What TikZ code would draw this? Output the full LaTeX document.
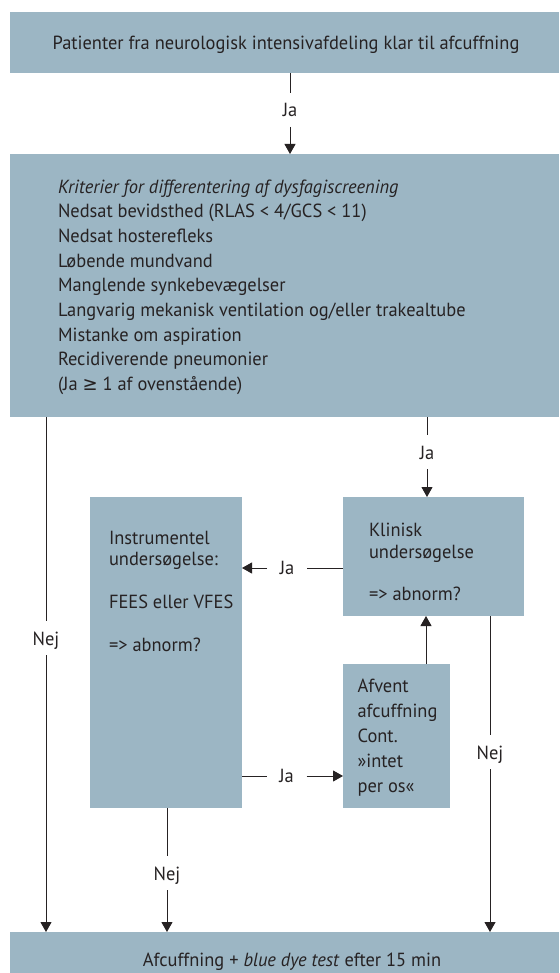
\documentclass[tikz,border=0pt]{standalone}
\usepackage{fontspec}
\setmainfont[FakeStretch=0.97]{PT Sans}
\newfontfamily\symfont[FakeStretch=0.95]{DejaVu Sans}
\usetikzlibrary{arrows.meta}
\definecolor{boxfill}{RGB}{156,182,196}
\definecolor{ink}{RGB}{38,34,35}
\begin{document}
\begin{tikzpicture}[x=1pt,y=-1pt,
  box/.style={fill=boxfill,draw=none,inner sep=0,outer sep=0},
  txt/.style={inner sep=0,outer sep=0,text=ink,align=left,anchor=north west},
  lbl/.style={inner sep=0,outer sep=0,text=ink,font=\fontsize{19}{22}\selectfont},
  vlbl/.style={lbl,text height=24pt,text depth=10pt,anchor=base},
  hlbl/.style={lbl,minimum width=40pt},
  conn/.style={draw=ink,line width=1pt},
  arr/.style={conn,-{Triangle[width=11pt,length=10pt]}}]
\useasboundingbox (0,0) rectangle (559,973);
\fill[white] (0,0) rectangle (559,973);
% boxes
\node[box,anchor=north west,minimum width=549pt,minimum height=61pt] (top) at (10,12) {};
\node[box,anchor=north west,minimum width=549pt,minimum height=263pt] (crit) at (10,154) {};
\node[box,anchor=north west,minimum width=181pt,minimum height=119pt] (klin) at (343,497) {};
\node[box,anchor=north west,minimum width=152pt,minimum height=311pt] (instr) at (90,497) {};
\node[box,anchor=north west,minimum width=107pt,minimum height=144pt] (afv) at (343,664) {};
\node[box,anchor=north west,minimum width=549pt,minimum height=41pt] (bot) at (10,932) {};
% texts
\node[inner sep=0,text=ink,anchor=base,font=\fontsize{19}{22}\selectfont] (topT) at (286,50)
  {Patienter fra neurologisk intensivafdeling klar til afcuffning};
\node[txt,font=\fontsize{19}{24.7}\selectfont] (critT) at (58,178)
  {\rule{0pt}{15pt}\textit{Kriterier for differentering af dysfagiscreening}\\
   Nedsat bevidsthed (RLAS < 4/GCS < 11)\\
   Nedsat hosterefleks\\
   Løbende mundvand\\
   Manglende synkebevægelser\\
   Langvarig mekanisk ventilation og/eller trakealtube\\
   Mistanke om aspiration\\
   Recidiverende pneumonier\\
   (Ja {\symfont ≥} 1 af ovenstående)};
\node[txt,font=\fontsize{19}{21.3}\selectfont] (klinT) at (369,521.7)
  {\rule{0pt}{15pt}Klinisk\\undersøgelse\\\mbox{}\\=> abnorm?};
\node[txt,font=\fontsize{19}{21.4}\selectfont] (instrT) at (109,529)
  {\rule{0pt}{15pt}Instrumentel\\undersøgelse:\\\mbox{}\\FEES eller VFES\\\mbox{}\\=> abnorm?};
\node[txt,font=\fontsize{19}{25}\selectfont] (afvT) at (357.6,677)
  {\rule{0pt}{15pt}Afvent\\afcuffning\\Cont.\\»intet\\per os«};
\node[inner sep=0,text=ink,anchor=base,font=\fontsize{19}{22}\selectfont] (botT) at (292,966)
  {Afcuffning + \textit{blue dye test} efter 15 min};
% labels
\node[vlbl] (ja1) at (290,117) {Ja};
\node[vlbl] (ja2) at (427,459) {Ja};
\node[hlbl] (ja3) at (287,568) {Ja};
\node[hlbl] (ja4) at (286.5,776) {Ja};
\node[vlbl] (nej1) at (46,645) {Nej};
\node[vlbl] (nej2) at (167,880) {Nej};
\node[vlbl] (nej3) at (490,759) {Nej};
\coordinate (up) at (426,640);
% connectors
\draw[conn] (top.south -| ja1) -- (ja1.north);
\draw[arr] (ja1.south) -- (crit.north -| ja1);
\draw[conn] (crit.south -| ja2) -- (ja2.north);
\draw[arr] (ja2.south) -- (klin.north -| ja2);
\draw[conn] (klin.west |- ja3) -- (ja3.east);
\draw[arr] (ja3.west) -- (instr.east |- ja3);
\draw[conn] (instr.east |- ja4) -- (ja4.west);
\draw[arr] (ja4.east) -- (afv.west |- ja4);
\draw[arr] (afv.north -| up) -- (klin.south -| up);
\draw[conn] (crit.south -| nej1) -- (nej1.north);
\draw[arr] (nej1.south) -- (bot.north -| nej1);
\draw[conn] (instr.south -| nej2) -- (nej2.north);
\draw[arr] (nej2.south) -- (bot.north -| nej2);
\draw[conn] (klin.south -| nej3) -- (nej3.north);
\draw[arr] (nej3.south) -- (bot.north -| nej3);
\end{tikzpicture}
\end{document}
